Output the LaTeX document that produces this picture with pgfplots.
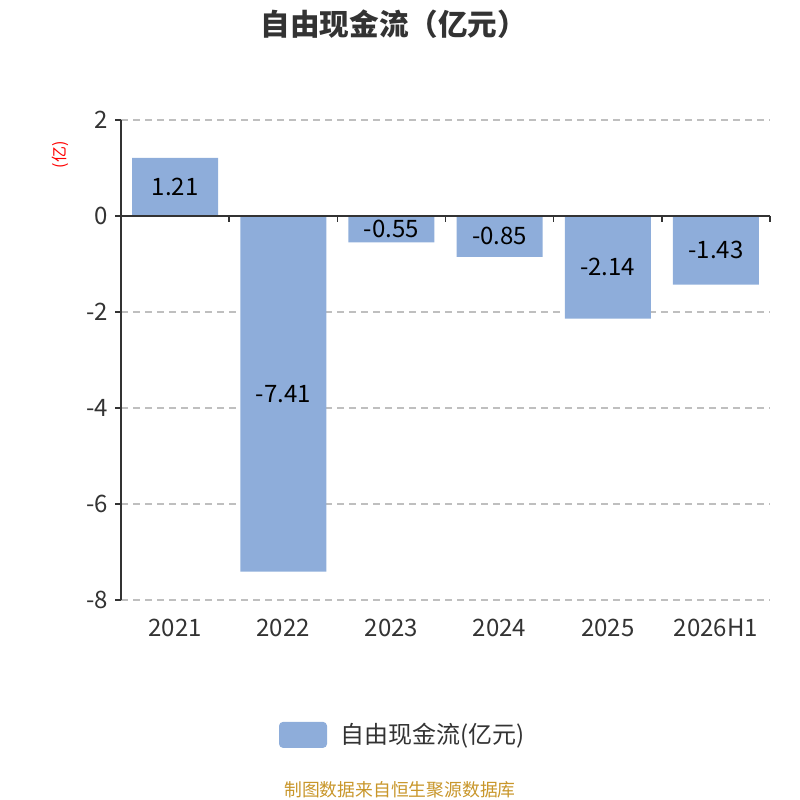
\documentclass[border=0pt]{standalone}
\usepackage{pgfplots}
\pgfplotsset{compat=1.18}
\usepackage{fontspec}
\setmainfont{Noto Sans CJK SC}
\definecolor{barc}{RGB}{142,173,218}
\definecolor{txt}{RGB}{51,51,51}
\definecolor{foot}{RGB}{200,150,42}
\begin{document}
\begin{tikzpicture}
\path[use as bounding box] (0,0) rectangle (400pt,400pt);
\node[font=\fontsize{14.8pt}{17pt}\selectfont\bfseries, text=txt] at (197pt,388pt) {自由现金流（亿元）};
\node[font=\fontsize{8.9pt}{10pt}\selectfont, text=foot] at (200pt,5pt) {制图数据来自恒生聚源数据库};
\node[font=\fontsize{8pt}{9pt}\selectfont, text=red, rotate=90] at (30pt,322.5pt) {(亿)};
\begin{axis}[
  at={(60.5pt,100pt)}, anchor=south west,
  scale only axis, width=324.5pt, height=240pt,
  xmin=-0.5, xmax=5.5, ymin=-8, ymax=2,
  ytick={-8,-6,-4,-2,0,2},
  xtick={0,1,2,3,4,5},
  xticklabels={2021,2022,2023,2024,2025,2026H1},
  axis lines*=left,
  x axis line style={draw=none},
  y axis line style={draw=txt, line width=0.75pt},
  major x tick style={draw=none},
  major y tick style={draw=txt, line width=0.75pt},
  tick align=outside, major tick length=3pt,
  ymajorgrids,
  grid style={draw=black!25, dash pattern=on 3.5pt off 2.5pt, line width=0.6pt},
  tick label style={font=\fontsize{12pt}{14pt}\selectfont, text=txt},
  /pgf/number format/assume math mode=true,
  xticklabel style={yshift=-3pt},
  legend style={at={(0.4355,-0.281)}, anchor=center, draw=none, fill=none,
    font=\fontsize{12pt}{14pt}\selectfont, text=txt},
  legend image code/.code={\fill[barc, rounded corners=2pt] (0pt,-6.5pt) rectangle (24pt,6.5pt);},
  clip=false,
]
\addplot[ybar, bar width=43pt, fill=barc, draw=none] coordinates {
  (0,1.21) (1,-7.41) (2,-0.55) (3,-0.85) (4,-2.14) (5,-1.43)};
\addlegendentry{\hspace{4.5pt}自由现金流(亿元)}
\addplot[forget plot, draw=none, mark=none, nodes near coords,
  point meta=explicit symbolic,
  nodes near coords style={anchor=center, font=\fontsize{12pt}{14pt}\selectfont, text=black}]
  coordinates {(0,0.605)[1.21] (1,-3.705)[-7.41] (2,-0.275)[-0.55]
  (3,-0.425)[-0.85] (4,-1.07)[-2.14] (5,-0.715)[-1.43]};
\draw[txt, line width=0.75pt] (axis cs:-0.5,0) -- (axis cs:5.5,0);
\draw[txt, line width=0.75pt] (axis cs:0.5,0) -- ([yshift=-3pt]axis cs:0.5,0);
\draw[txt, line width=0.75pt] (axis cs:1.5,0) -- ([yshift=-3pt]axis cs:1.5,0);
\draw[txt, line width=0.75pt] (axis cs:2.5,0) -- ([yshift=-3pt]axis cs:2.5,0);
\draw[txt, line width=0.75pt] (axis cs:3.5,0) -- ([yshift=-3pt]axis cs:3.5,0);
\draw[txt, line width=0.75pt] (axis cs:4.5,0) -- ([yshift=-3pt]axis cs:4.5,0);
\draw[txt, line width=0.75pt] (axis cs:5.5,0) -- ([yshift=-3pt]axis cs:5.5,0);
\end{axis}
\end{tikzpicture}
\end{document}
